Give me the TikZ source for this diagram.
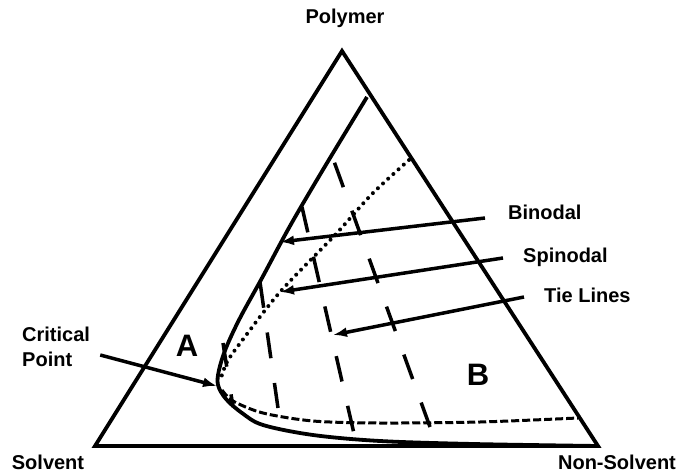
\documentclass[tikz,border=0pt]{standalone}
\usepackage{fontspec}
\setmainfont{Liberation Sans}
\usetikzlibrary{arrows.meta,positioning}

\begin{document}
\begin{tikzpicture}[x=1pt,y=-1pt,
    lbl/.style={font=\fontsize{20}{25}\selectfont\bfseries,inner sep=0pt},
    region/.style={font=\fontsize{31}{34}\selectfont\bfseries,inner sep=0pt},
    edge/.style={line width=3.8pt,line join=miter},
    pointer/.style={line width=3.5pt,-{Latex[length=14pt,width=10pt]}},
    tieline/.style={line width=3.5pt,dash pattern=on 26pt off 25pt},
    spinodal/.style={line width=4pt,line cap=round,dash pattern=on 0pt off 7pt},
    spinlow/.style={line width=3pt,dash pattern=on 8pt off 3pt}]

    \useasboundingbox (0,0) rectangle (683,473);

    % corners of the phase triangle
    \coordinate (P) at (342,51);
    \coordinate (S) at (95,446);
    \coordinate (N) at (598,446);
    \draw[edge] (P) -- (S) -- (N) -- cycle;

    \node[lbl] (polymer) at (345,18) {Polymer};
    \node[lbl] (solvent) at (48,462) {Solvent};
    \node[lbl] (nonsolvent) at (617,462) {Non-Solvent};

    % binodal
    \draw[line width=3.8pt] plot[smooth,tension=0.55] coordinates {(367,97) (324,168) (290,226) (262,278) (240,318) (226,348)
        (219,370) (218,385) (226,399) (242,413) (263,425) (313,435) (380,441) (473,444) (598,446)};

    % spinodal
    \draw[spinodal] plot[smooth,tension=0.5] coordinates {(409,160) (372,194) (335,235) (280,292) (241,342) (227,362) (221,378)};
    \draw[spinlow] plot[smooth,tension=0.5] coordinates {(222,390) (233,401) (263,413) (313,421) (380,423) (480,422) (578,418)};

    % tie lines
    \draw[tieline] (302,207) -- (355,438);
    \draw[tieline] (430,427) -- (331,153);
    \draw[tieline] (260,282) -- (278,408);
    \draw[tieline,dash pattern=on 24pt off 28pt] (223,343) -- (233,407);

    \node[region] (A) at (187,346) {A};
    \node[region] (B) at (478,375) {B};

    % labels and their arrows
    \coordinate (bintip) at (280,242);
    \coordinate (spintip) at (280,292);
    \coordinate (tietip) at (333,335);
    \coordinate (crittip) at (217,386);

    \node[lbl,anchor=west] (binodal) at (508,212) {Binodal};
    \node[lbl,anchor=west] (spinodal) at (523,257) {Spinodal};
    \node[lbl,anchor=west] (tielines) at (544,295) {Tie Lines};
    \node[lbl,anchor=west,align=left] (critical) at (22,347) {Critical\\Point};

    \draw[pointer] ([xshift=-23pt,yshift=-6pt]binodal.west) -- (bintip);
    \draw[pointer] ([xshift=-20pt,yshift=-1pt]spinodal.west) -- (spintip);
    \draw[pointer] ([xshift=-20pt,yshift=-2pt]tielines.west) -- (tietip);
    \draw[pointer] ([xshift=10pt,yshift=-8pt]critical.east) -- (crittip);

\end{tikzpicture}
\end{document}
